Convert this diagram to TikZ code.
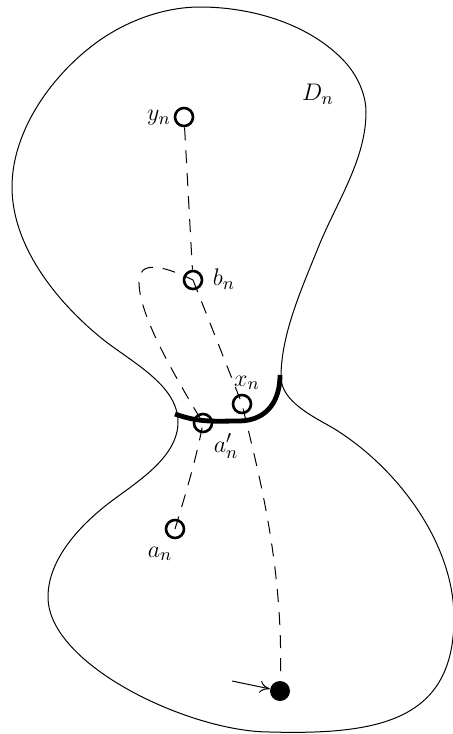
\documentclass[tikz,border=0pt]{standalone}
\usetikzlibrary{arrows.meta}
\begin{document}
\begin{tikzpicture}[x=0.5pt,y=-0.5pt,
  pt/.style={circle,draw,line width=1.3pt,minimum size=9pt,inner sep=0pt},
  dot/.style={circle,fill,minimum size=10pt,inner sep=0pt},
  dashpath/.style={dash pattern=on 6.5pt off 5pt,line width=0.5pt},
  lbl/.style={font=\fontsize{13}{15}\selectfont,inner sep=0pt}]
\useasboundingbox (0,0) rectangle (453,734);
% outline of D_n
\draw[line width=0.5pt] (200,7)
  .. controls (252,7) and (310,24) .. (345,62)
  .. controls (357,75) and (366,94) .. (366,112)
  .. controls (366,160) and (336,203) .. (318,248)
  .. controls (302,288) and (281,334) .. (281,377)
  .. controls (281,401) and (312,416) .. (333,428)
  .. controls (397,467) and (454,543) .. (454,618)
  .. controls (454,720) and (380,735) .. (270,732)
  .. controls (190,732) and (48,665) .. (48,597)
  .. controls (48,558) and (82,523) .. (113,500)
  .. controls (140,480) and (178,456) .. (178,422)
  .. controls (178,384) and (129,361) .. (100,337)
  .. controls (55,300) and (12,245) .. (12,187)
  .. controls (12,130) and (53,73) .. (100,40)
  .. controls (129,20) and (165,7) .. cycle;
% thick cut
\draw[line width=2.4pt] (175,414) .. controls (200,423) and (215,421) .. (240,421)
  .. controls (268,420) and (280,400) .. (280,375);
% points
\node[pt] (yn) at (184,117) {};
\node[pt] (bn) at (193,280) {};
\node[pt] (xn) at (242,404) {};
\node[pt] (ap) at (203,423) {};
\node[pt] (an) at (175,529) {};
\node[dot] (z) at (280,691) {};
\coordinate (s) at (232,681);
% labels
\node[lbl] (lyn) at (159,118) {$y_n$};
\node[lbl] (lbn) at (224,279) {$b_n$};
\node[lbl] (lD) at (318,94) {$D_n$};
\node[lbl] (lxn) at (247,383) {$x_n$};
\node[lbl] (lap) at (226,446) {$a'_n$};
\node[lbl] (lan) at (160,554) {$a_n$};
% dashed paths
\draw[dashpath] (yn) -- (bn);
\draw[dashpath] (bn.center) -- (xn.center) .. controls (255,460) and (284,560) .. (z);
\draw[dashpath] (an.center) .. controls (190,480) and (198,450) .. (ap.center)
  .. controls (165,360) and (138,310) .. (139,280)
  .. controls (140,262) and (160,264) .. (bn.center);
% arrow
\draw[-{To[length=5pt,width=6pt]},line width=0.5pt] (s) -- (z);
\end{tikzpicture}
\end{document}
